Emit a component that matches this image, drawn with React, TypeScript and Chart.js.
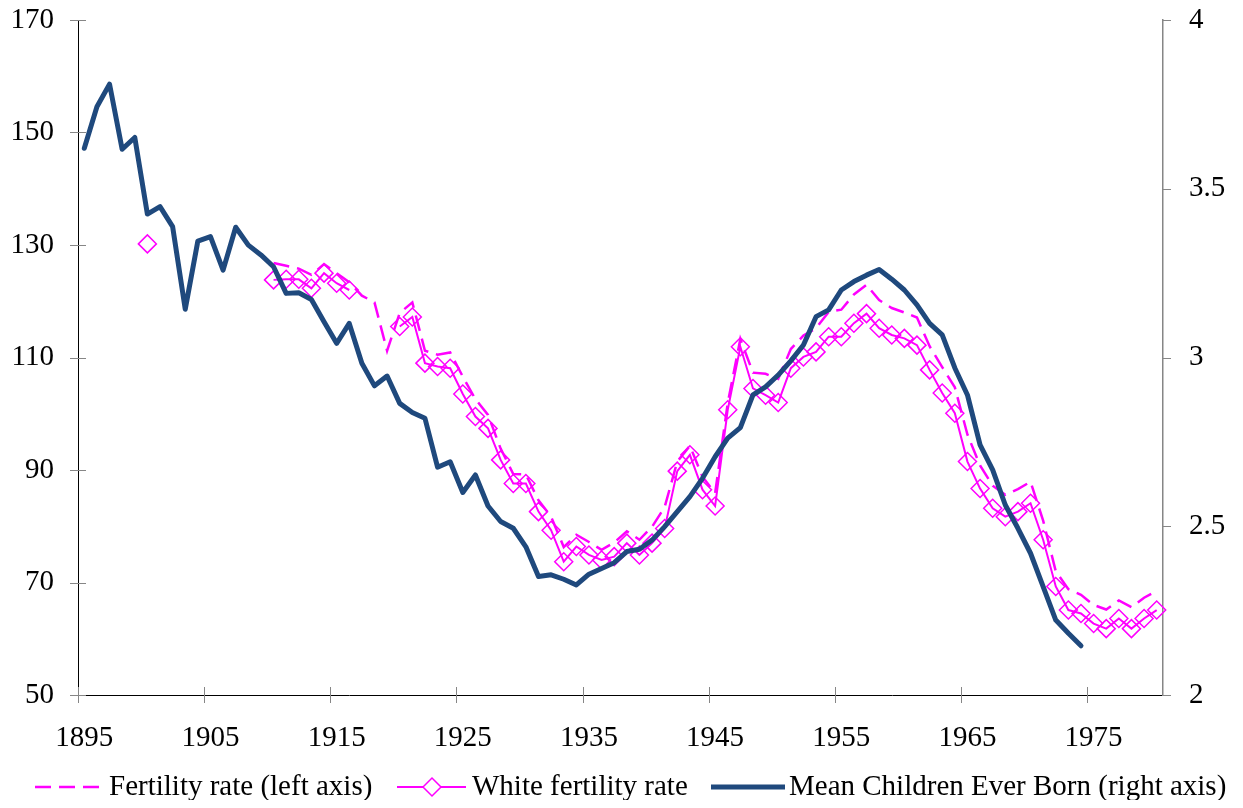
import React, { useEffect, useRef } from "react";
import { Chart, registerables } from "chart.js";

Chart.register(...registerables);

const years = [
  "1895","1896","1897","1898","1899","1900","1901","1902","1903","1904",
  "1905","1906","1907","1908","1909","1910","1911","1912","1913","1914",
  "1915","1916","1917","1918","1919","1920","1921","1922","1923","1924",
  "1925","1926","1927","1928","1929","1930","1931","1932","1933","1934",
  "1935","1936","1937","1938","1939","1940","1941","1942","1943","1944",
  "1945","1946","1947","1948","1949","1950","1951","1952","1953","1954",
  "1955","1956","1957","1958","1959","1960","1961","1962","1963","1964",
  "1965","1966","1967","1968","1969","1970","1971","1972","1973","1974",
  "1975","1976","1977","1978","1979","1980",
];

const seriesNames = [
  "Fertility rate (left axis)",
  "White fertility rate",
  "Mean Children Ever Born (right axis)",
];

// Fertility rate (left axis), aligned with years 1895..1980
const fertilityRate = [
  null, null, null, null, null, null, null, null, null, null,
  null, null, null, null, null, 126.8, 126.3, 125.8, 124.7, 126.6,
  125.0, 123.4, 121.0, 119.8, 111.2, 117.9, 119.8, 111.2, 110.5, 110.9,
  106.6, 102.6, 99.8, 93.8, 89.3, 89.2, 84.6, 81.7, 76.3, 78.5,
  77.2, 75.8, 77.1, 79.1, 77.6, 79.9, 83.4, 91.5, 94.3, 88.8,
  85.9, 101.9, 113.3, 107.3, 107.1, 106.2, 111.5, 113.9, 115.2, 118.1,
  118.5, 121.2, 122.9, 120.2, 118.8, 118.0, 117.1, 112.0, 108.3, 104.7,
  96.3, 90.8, 87.2, 85.6, 86.6, 87.9, 81.0, 72.0, 68.8, 67.8,
  66.0, 65.2, 66.8, 65.6, 67.3, 68.5,
];

// White fertility rate (left axis), aligned with years 1895..1980
const whiteFertilityRate = [
  null, null, null, null, null, 130.2, null, null, null, null,
  null, null, null, null, null, 123.8, 123.9, 123.9, 122.3, 125.0,
  123.2, 122.0, null, null, null, 115.5, 117.2, 109.0, 108.4, 108.1,
  103.5, 99.5, 97.4, 91.8, 87.6, 87.6, 82.6, 79.3, 73.7, 76.4,
  74.9, 74.0, 74.6, 77.0, 74.9, 77.0, 79.6, 89.8, 92.7, 86.5,
  83.6, 100.7, 111.9, 104.5, 103.3, 102.0, 108.1, 110.1, 111.0, 113.7,
  113.7, 116.1, 117.8, 115.2, 114.0, 113.4, 112.2, 107.8, 103.7, 100.1,
  91.5, 86.7, 83.2, 81.7, 82.6, 84.1, 77.6, 69.3, 65.1, 64.5,
  62.7, 61.8, 63.6, 61.8, 63.6, 65.1,
];

// Mean Children Ever Born (right axis), aligned with years 1895..1980
const meanChildrenEverBorn = [
  3.620, 3.743, 3.810, 3.617, 3.652, 3.425, 3.447, 3.388, 3.143, 3.345,
  3.358, 3.259, 3.386, 3.333, 3.304, 3.269, 3.190, 3.192, 3.172, 3.106,
  3.042, 3.101, 2.983, 2.916, 2.945, 2.864, 2.837, 2.820, 2.675, 2.691,
  2.600, 2.652, 2.560, 2.514, 2.494, 2.439, 2.351, 2.356, 2.343, 2.326,
  2.358, 2.375, 2.392, 2.425, 2.432, 2.459, 2.499, 2.543, 2.588, 2.642,
  2.706, 2.761, 2.792, 2.889, 2.913, 2.948, 2.990, 3.037, 3.121, 3.141,
  3.200, 3.225, 3.244, 3.261, 3.232, 3.200, 3.156, 3.101, 3.067, 2.969,
  2.889, 2.741, 2.667, 2.563, 2.494, 2.420, 2.321, 2.222, 2.183, 2.146,
  null, null, null, null, null, null,
];

const leftTicks = [50, 70, 90, 110, 130, 150, 170];
const rightTicks = [2, 2.5, 3, 3.5, 4];

const MAGENTA = "#FF00FF";
const NAVY = "#1F497D";
const GRAY = "#868686";
const FONT = "'Liberation Serif', 'Times New Roman', serif";
const FS = 29;

const decorPlugin = {
  id: "decor",
  afterDraw(chart: any) {
    const { ctx } = chart;
    const x = chart.scales.x;
    const y = chart.scales.y;
    const y1 = chart.scales.y1;
    ctx.save();
    // tick marks
    ctx.strokeStyle = GRAY;
    ctx.lineWidth = 1;
    ctx.setLineDash([]);
    ctx.beginPath();
    const w = (x.right - x.left) / years.length;
    for (let i = 0; i <= 80; i += 10) {
      const px = Math.round(x.left + i * w) + 0.5;
      ctx.moveTo(px, x.top - 8);
      ctx.lineTo(px, x.top + 8);
    }
    leftTicks.forEach((v) => {
      const py = Math.round(y.getPixelForValue(v)) + 0.5;
      ctx.moveTo(y.right - 8, py);
      ctx.lineTo(y.right + 8, py);
    });
    rightTicks.forEach((v) => {
      const py = Math.round(y1.getPixelForValue(v)) + 0.5;
      ctx.moveTo(y1.left, py);
      ctx.lineTo(y1.left + 8, py);
    });
    ctx.stroke();

    // legend
    const ly = 779;
    ctx.font = `${FS}px ${FONT}`;
    ctx.textBaseline = "middle";
    ctx.textAlign = "left";
    ctx.fillStyle = "#000";

    // item 1: dashed magenta
    ctx.strokeStyle = MAGENTA;
    ctx.lineWidth = 2.5;
    ctx.setLineDash([16, 8]);
    ctx.beginPath();
    ctx.moveTo(27, ly);
    ctx.lineTo(96, ly);
    ctx.stroke();
    ctx.setLineDash([]);
    ctx.fillText(seriesNames[0], 101, ly);

    // item 2: solid magenta with diamond
    ctx.lineWidth = 2;
    ctx.beginPath();
    ctx.moveTo(389, ly);
    ctx.lineTo(458, ly);
    ctx.stroke();
    ctx.beginPath();
    const cx = 424, r = 9;
    ctx.moveTo(cx - r, ly);
    ctx.lineTo(cx, ly - r);
    ctx.lineTo(cx + r, ly);
    ctx.lineTo(cx, ly + r);
    ctx.closePath();
    ctx.fillStyle = "#fff";
    ctx.fill();
    ctx.lineWidth = 1.5;
    ctx.stroke();
    ctx.fillStyle = "#000";
    ctx.fillText(seriesNames[1], 464, ly);

    // item 3: navy thick line
    ctx.strokeStyle = NAVY;
    ctx.lineWidth = 5;
    ctx.beginPath();
    ctx.moveTo(703, ly);
    ctx.lineTo(777, ly);
    ctx.stroke();
    ctx.fillText(seriesNames[2], 781, ly);
    ctx.restore();
  },
};

export default function App() {
  const ref = useRef<HTMLCanvasElement>(null);
  useEffect(() => {
    const canvas = ref.current;
    if (!canvas) return;
    const chart = new Chart(canvas, {
      type: "line",
      data: {
        labels: years,
        datasets: [
          {
            label: seriesNames[0],
            data: fertilityRate,
            yAxisID: "y",
            borderColor: MAGENTA,
            borderWidth: 2.5,
            borderDash: [16, 8],
            pointRadius: 0,
            tension: 0,
            spanGaps: false,
            fill: false,
            order: 3,
          },
          {
            label: seriesNames[1],
            data: whiteFertilityRate,
            yAxisID: "y",
            borderColor: MAGENTA,
            borderWidth: 2,
            pointStyle: "rectRot",
            pointRadius: 9,
            pointBorderWidth: 1.5,
            pointBorderColor: MAGENTA,
            pointBackgroundColor: "rgba(0,0,0,0)",
            tension: 0,
            spanGaps: false,
            fill: false,
            order: 2,
          },
          {
            label: seriesNames[2],
            data: meanChildrenEverBorn,
            yAxisID: "y1",
            borderColor: NAVY,
            borderWidth: 5,
            borderCapStyle: "round",
            borderJoinStyle: "round",
            pointRadius: 0,
            tension: 0,
            spanGaps: false,
            fill: false,
            order: 1,
          },
        ] as any,
      },
      options: {
        responsive: false,
        devicePixelRatio: 1,
        animation: false,
        events: [],
        layout: { padding: { top: 12, left: 0, right: 0, bottom: 0 } },
        plugins: {
          legend: { display: false },
          tooltip: { enabled: false },
        },
        scales: {
          x: {
            type: "category",
            offset: true,
            grid: { display: false, drawTicks: false },
            border: { display: true, color: "#000", width: 1 },
            ticks: {
              autoSkip: false,
              maxRotation: 0,
              minRotation: 0,
              padding: 26,
              color: "#000",
              font: { family: FONT, size: FS },
              callback: function (this: any, val: any, idx: number) {
                return idx % 10 === 0 ? years[idx] : "";
              },
            },
            afterFit: (s: any) => {
              s.height = 105;
              s.paddingLeft = 0;
              s.paddingRight = 0;
            },
          },
          y: {
            type: "linear",
            position: "left",
            min: 50,
            max: 170,
            grid: { display: false, drawTicks: false },
            border: { display: true, color: "#000", width: 1 },
            ticks: {
              stepSize: 20,
              padding: 24,
              color: "#000",
              font: { family: FONT, size: FS },
              callback: (v: any) => String(v),
            },
            afterFit: (s: any) => {
              s.width = 70;
              s.paddingTop = 0;
              s.paddingBottom = 0;
            },
          },
          y1: {
            type: "linear",
            position: "right",
            min: 2,
            max: 4,
            grid: { display: false, drawTicks: false },
            border: { display: true, color: GRAY, width: 1.5 },
            ticks: {
              stepSize: 0.5,
              padding: 26,
              color: "#000",
              font: { family: FONT, size: FS },
              callback: (v: any) => String(Math.round(v * 10) / 10),
            },
            afterFit: (s: any) => {
              s.width = 72;
              s.paddingTop = 0;
              s.paddingBottom = 0;
            },
          },
        },
      } as any,
      plugins: [decorPlugin],
    });
    return () => chart.destroy();
  }, []);

  return (
    <div style={{ width: 1227, height: 792 }}>
      <canvas ref={ref} width={1227} height={792} style={{ display: "block" }} />
    </div>
  );
}
